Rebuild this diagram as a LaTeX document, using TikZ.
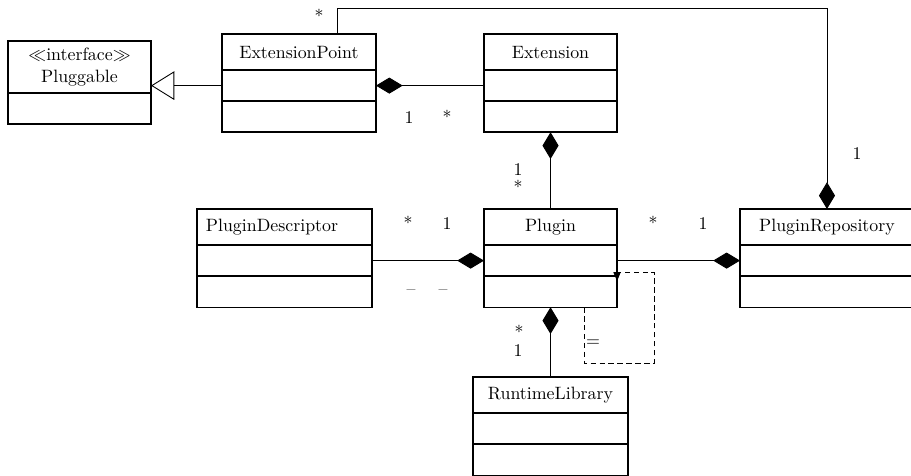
\documentclass[tikz,border=0pt]{standalone}
\usepackage{amsmath,amssymb}
\usetikzlibrary{arrows.meta,positioning}
\tikzset{
  cls/.style={draw, rectangle, line width=0.8pt, outer sep=0pt, inner sep=2pt, anchor=north west, minimum height=20.2pt, align=center},
  sec/.style={draw, rectangle, line width=0.8pt, outer sep=0pt, inner sep=0pt, minimum height=17.4pt},
  mult/.style={anchor=base, inner sep=0pt},
  lnk/.style={line width=0.5pt},
  comp/.style={lnk, -{Diamond[length=15pt, width=9pt]}},
  rcomp/.style={lnk, {Diamond[length=15pt, width=9pt]}-},
  gen/.style={lnk, -{Triangle[open, length=13pt, width=16pt, fill=white]}},
  dep/.style={lnk, dash pattern=on 3pt off 2pt, -{Triangle[length=5pt, width=4pt]}},
}
\begin{document}
\begin{tikzpicture}[x=0.56pt, y=-0.56pt]
\useasboundingbox (0,0) rectangle (911,476);
% top row
\node[cls, minimum width=80.1pt, minimum height=29.1pt] (plug) at (8,41) {$\ll$interface$\gg$\\Pluggable};
\node[sec, minimum width=80.1pt, below=0pt of plug] (plug2) {};
\node[cls, minimum width=86.2pt] (ep) at (222,34) {ExtensionPoint};
\node[sec, minimum width=86.2pt, below=0pt of ep] (ep2) {};
\node[sec, minimum width=86.2pt, below=0pt of ep2] (ep3) {};
\node[cls, minimum width=74.5pt] (ext) at (484,34) {Extension};
\node[sec, minimum width=74.5pt, below=0pt of ext] (ext2) {};
\node[sec, minimum width=74.5pt, below=0pt of ext2] (ext3) {};
% middle row
\node[cls, text width=88pt, align=left, inner xsep=5pt] (pd) at (197,209) {PluginDescriptor};
\node[sec, minimum width=98pt, below=0pt of pd] (pd2) {};
\node[sec, minimum width=98pt, below=0pt of pd2] (pd3) {};
\node[cls, minimum width=74.5pt] (pl) at (484,209) {Plugin};
\node[sec, minimum width=74.5pt, below=0pt of pl] (pl2) {};
\node[sec, minimum width=74.5pt, below=0pt of pl2] (pl3) {};
\node[cls, minimum width=97.4pt] (repo) at (740,209) {PluginRepository};
\node[sec, minimum width=97.4pt, below=0pt of repo] (repo2) {};
\node[sec, minimum width=97.4pt, below=0pt of repo2] (repo3) {};
% bottom
\node[cls, minimum width=86.8pt] (rl) at (473,377) {RuntimeLibrary};
\node[sec, minimum width=86.8pt, below=0pt of rl] (rl2) {};
\node[sec, minimum width=86.8pt, below=0pt of rl2] (rl3) {};
% links
\draw[gen] (ep2.west) -- (ep2.west -| plug.east);
\draw[rcomp] (ep2.east) -- (ext2.west);
\draw[rcomp] (ext3.south) -- (pl.north);
\draw[comp] (pd2.east) -- (pl2.west);
\draw[comp] (pl2.east) -- (repo2.west);
\draw[rcomp] (pl3.south) -- (rl.north);
\draw[comp] ([xshift=21.3pt]ep.north) -- ++(0,-26) -| (repo.north);
\draw[dep] ([xshift=18.8pt]pl3.south) -- ++(0,56) -| ++(70,-91) -| ([yshift=-2.8pt]pl3.north east);
% multiplicities
\node[mult] (m1) at (319,23) {*};
\node[mult] (m2) at (409,124) {1};
\node[mult] (m3) at (447,124) {*};
\node[mult] (m4) at (518,176) {1};
\node[mult] (m5) at (518,194) {*};
\node[mult] (m6) at (857,160) {1};
\node[mult] (m7) at (408,230) {*};
\node[mult] (m8) at (447,230) {1};
\node[mult] (m9) at (411,295) {--};
\node[mult] (m10) at (443,295) {--};
\node[mult] (m11) at (653,230) {*};
\node[mult] (m12) at (703,230) {1};
\node[mult] (m13) at (519,339) {*};
\node[mult] (m14) at (518,356) {1};
\node[mult] (m15) at (593,346) {=};
\end{tikzpicture}
\end{document}
